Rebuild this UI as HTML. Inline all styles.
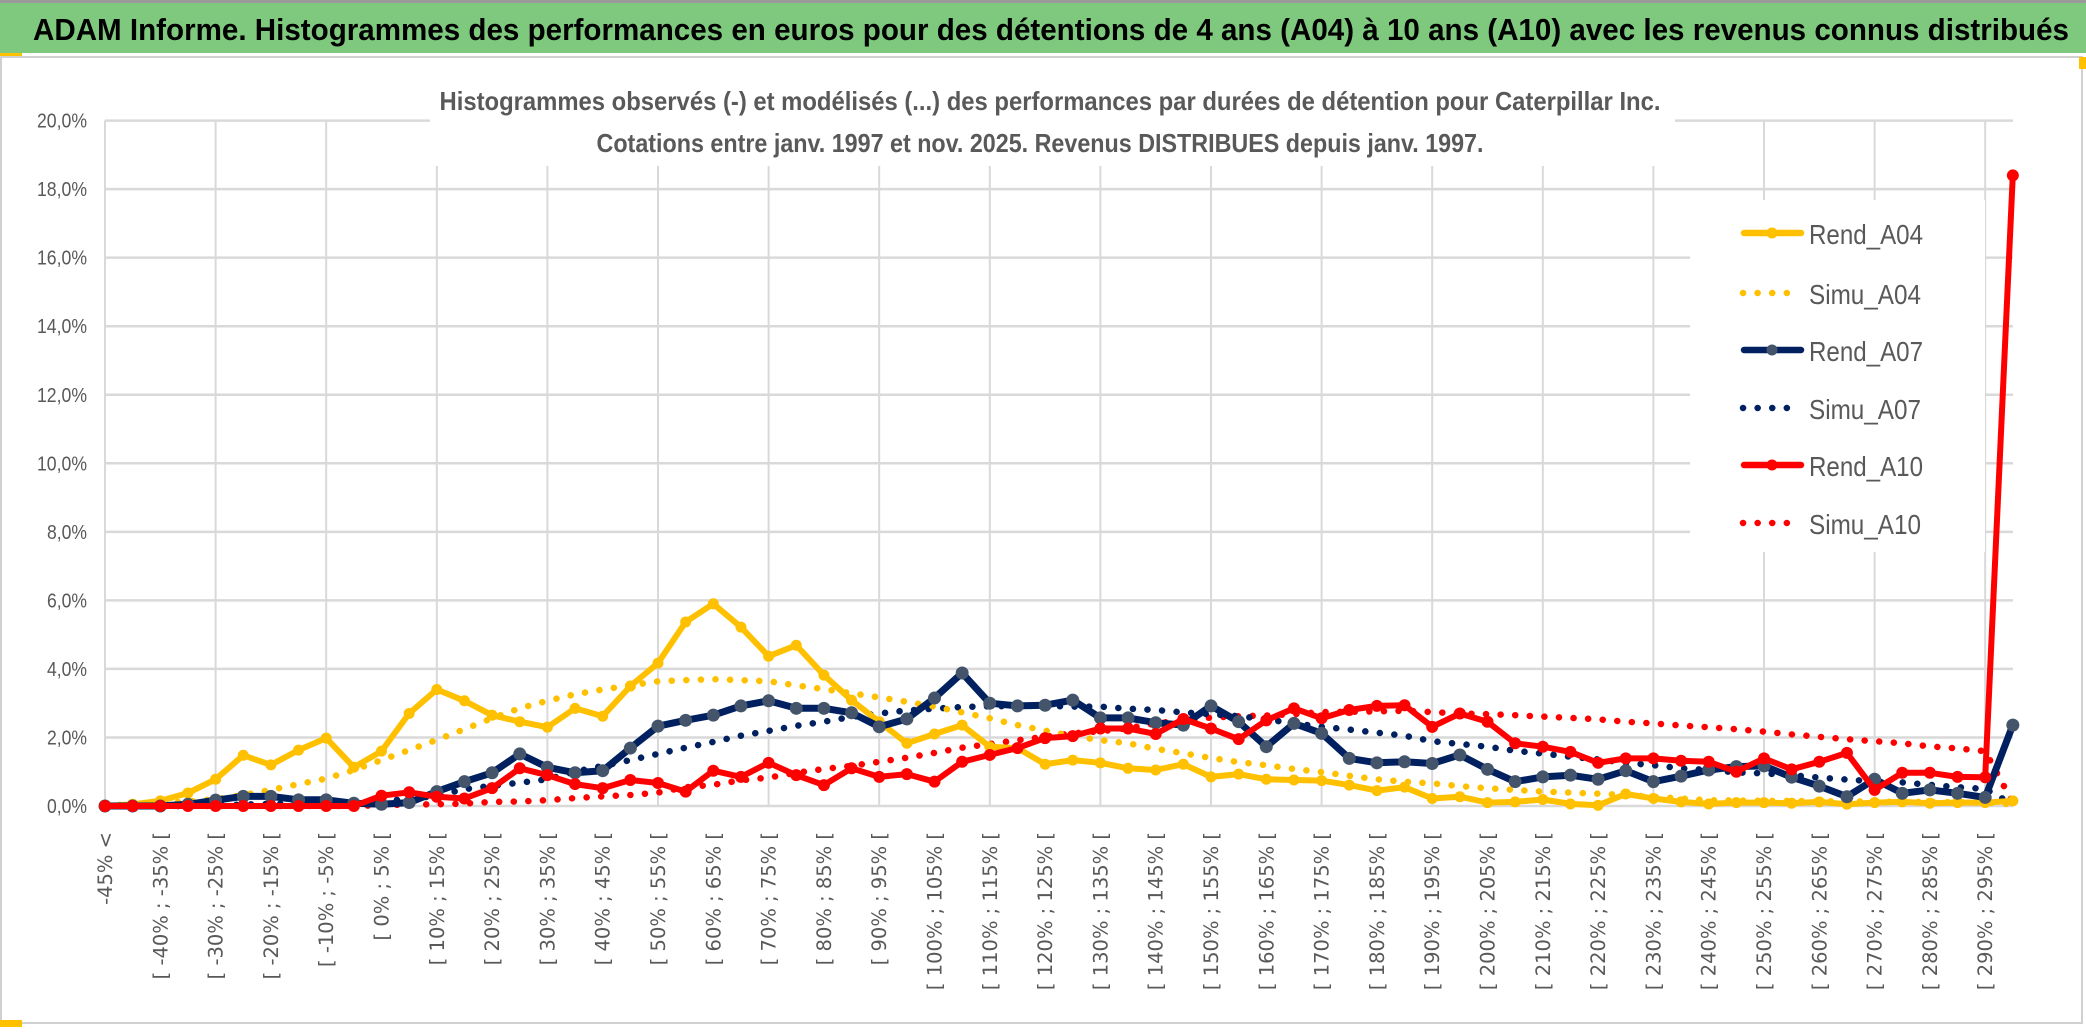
<!DOCTYPE html>
<html><head><meta charset="utf-8"><style>
html,body{margin:0;padding:0;background:#fff;}
svg{display:block;}
</style></head><body>
<svg id="chart" width="2086" height="1033" viewBox="0 0 2086 1033" xmlns="http://www.w3.org/2000/svg">
<rect x="0" y="0" width="2086" height="1033" fill="#fff"/>
<rect x="0" y="0" width="2086" height="3" fill="#9a9a9a"/>
<rect x="0" y="3" width="2086" height="50" fill="#7fc97f"/>
<text x="33" y="40" font-family="'Liberation Sans Narrow','Liberation Sans',sans-serif" font-weight="bold" font-size="31" fill="#000" textLength="2036" lengthAdjust="spacingAndGlyphs">ADAM Informe. Histogrammes des performances en euros pour des détentions de 4 ans (A04) à 10 ans (A10) avec les revenus connus distribués</text>
<rect x="0" y="53" width="22" height="4" fill="#ffc000"/>
<rect x="1" y="57" width="2081" height="966" fill="none" stroke="#d0d0d0" stroke-width="2"/>
<rect x="0" y="1020" width="22" height="7" fill="#ffc000"/>
<rect x="2079" y="57" width="7" height="12" fill="#ffc000"/>
<g id="grid"></g>
<rect x="430" y="84" width="1245" height="82" fill="#fff"/>
<text x="1050" y="110" text-anchor="middle" font-family="'Liberation Sans Narrow','Liberation Sans',sans-serif" font-weight="bold" font-size="26" fill="#595959" textLength="1221" lengthAdjust="spacingAndGlyphs">Histogrammes observés (-) et modélisés (...) des performances par durées de détention pour Caterpillar Inc.</text>
<text x="1040" y="152" text-anchor="middle" font-family="'Liberation Sans Narrow','Liberation Sans',sans-serif" font-weight="bold" font-size="26" fill="#595959" textLength="887" lengthAdjust="spacingAndGlyphs">Cotations entre janv. 1997 et nov. 2025. Revenus DISTRIBUES depuis janv. 1997.</text>
<g id="yaxis"></g>
<g id="xaxis"></g>
<g id="series"></g>
<g id="legend"></g>
</svg>
<script>
const categories = (function(){const c=["-45% <"];for(let a=-45;a<300;a+=5){c.push("[ "+a+"% ; "+(a+5)+"% [");}return c;})();
const yTicks = [0,2,4,6,8,10,12,14,16,18,20];
const yTickLabels = ["0,0%","2,0%","4,0%","6,0%","8,0%","10,0%","12,0%","14,0%","16,0%","18,0%","20,0%"];
const rendA04 = [0,0.05,0.15,0.38,0.78,1.48,1.2,1.63,1.98,1.13,1.6,2.7,3.4,3.07,2.65,2.46,2.3,2.85,2.62,3.5,4.17,5.37,5.9,5.22,4.37,4.69,3.82,3.09,2.46,1.83,2.1,2.36,1.73,1.69,1.22,1.34,1.26,1.1,1.05,1.22,0.85,0.93,0.78,0.76,0.74,0.61,0.45,0.55,0.22,0.27,0.1,0.12,0.19,0.06,0.02,0.35,0.22,0.12,0.06,0.1,0.1,0.08,0.12,0.05,0.1,0.12,0.08,0.1,0.1,0.15];
const simuA04 = [0.02,0.04,0.08,0.13,0.2,0.32,0.47,0.64,0.8,1.05,1.34,1.63,1.93,2.24,2.56,2.85,3.07,3.26,3.4,3.52,3.64,3.67,3.7,3.67,3.64,3.52,3.41,3.29,3.17,3.04,2.9,2.73,2.56,2.36,2.2,2.04,1.92,1.83,1.67,1.54,1.4,1.28,1.19,1.08,0.99,0.88,0.78,0.71,0.66,0.58,0.52,0.47,0.42,0.39,0.36,0.32,0.27,0.22,0.17,0.16,0.15,0.15,0.14,0.13,0.13,0.12,0.12,0.11,0.1,0.05];
const rendA07 = [0,0,0,0.05,0.17,0.28,0.28,0.18,0.18,0.08,0.05,0.1,0.42,0.71,0.97,1.52,1.13,0.97,1.03,1.69,2.33,2.5,2.65,2.92,3.07,2.85,2.85,2.72,2.31,2.54,3.15,3.88,3.0,2.92,2.94,3.09,2.57,2.57,2.43,2.36,2.92,2.46,1.73,2.41,2.12,1.39,1.26,1.29,1.24,1.49,1.07,0.71,0.85,0.9,0.78,1.03,0.71,0.87,1.05,1.15,1.17,0.84,0.58,0.27,0.78,0.37,0.47,0.37,0.25,2.36];
const simuA07 = [0,0,0,0,0.02,0.04,0.06,0.08,0.1,0.12,0.15,0.2,0.3,0.49,0.59,0.68,0.78,1.0,1.17,1.34,1.52,1.7,1.87,2.05,2.19,2.34,2.46,2.6,2.7,2.79,2.84,2.89,2.91,2.92,2.92,2.9,2.9,2.84,2.8,2.73,2.68,2.62,2.53,2.41,2.31,2.23,2.14,2.05,1.89,1.81,1.73,1.61,1.53,1.44,1.36,1.26,1.19,1.1,1.05,0.98,0.95,0.9,0.83,0.77,0.72,0.69,0.62,0.55,0.5,0.05];
const rendA10 = [0,0,0,0,0,0,0,0,0,0,0.3,0.4,0.27,0.22,0.52,1.1,0.9,0.64,0.52,0.76,0.67,0.42,1.03,0.85,1.26,0.9,0.61,1.1,0.85,0.93,0.71,1.29,1.49,1.69,1.98,2.04,2.26,2.26,2.1,2.54,2.26,1.95,2.5,2.85,2.56,2.8,2.92,2.94,2.31,2.7,2.46,1.83,1.73,1.58,1.26,1.39,1.39,1.32,1.29,1.0,1.39,1.07,1.29,1.55,0.47,0.97,0.97,0.85,0.84,18.4];
const simuA10 = [0,0,0,0,0,0,0,0,0,0,0.02,0.04,0.05,0.07,0.12,0.13,0.17,0.23,0.28,0.32,0.39,0.55,0.62,0.75,0.83,0.97,1.08,1.17,1.29,1.41,1.55,1.7,1.81,1.92,2.02,2.12,2.18,2.27,2.41,2.5,2.58,2.62,2.64,2.68,2.74,2.75,2.76,2.78,2.74,2.7,2.68,2.65,2.61,2.57,2.53,2.46,2.41,2.35,2.3,2.24,2.17,2.09,2.02,1.95,1.89,1.83,1.74,1.68,1.6,0.1];

const NS="http://www.w3.org/2000/svg";
const X0=105, STEP=27.65, Y0=806, PERPCT=34.27, XR=2013;
function xPos(i){return X0+i*STEP;}
function yPos(v){return Y0-v*PERPCT;}
function mk(tag,attrs,parent){const e=document.createElementNS(NS,tag);for(const k in attrs)e.setAttribute(k,attrs[k]);parent.appendChild(e);return e;}

const grid=document.getElementById('grid');
yTicks.forEach(function(t){
  const l=mk('line',{x1:X0,x2:XR,y1:yPos(t),y2:yPos(t),stroke:'#d9d9d9','stroke-width':2.5},grid);
  
  
});
for(let i=0;i<categories.length;i+=4){
  const l=mk('line',{x1:xPos(i),x2:xPos(i),y1:yPos(20),y2:Y0,stroke:'#d9d9d9','stroke-width':2},grid);
  
  
}
const ya=document.getElementById('yaxis');
yTicks.forEach(function(t,k){
  const tx=mk('text',{x:87,y:yPos(t)+7,'text-anchor':'end','font-family':"'Liberation Sans Narrow','Liberation Sans',sans-serif",'font-size':20,fill:'#595959',textLength:yTickLabels[k].length*10,lengthAdjust:'spacingAndGlyphs'},ya);
  tx.textContent=yTickLabels[k];
  
  
});
const xa=document.getElementById('xaxis');
for(let i=0;i<categories.length;i+=2){
  const x=xPos(i)+7, y=832;
  const tx=mk('text',{x:x,y:y,'text-anchor':'end',transform:'rotate(-90 '+x+' '+y+')','font-family':"'DejaVu Sans',sans-serif",'font-size':19.5,fill:'#595959'},xa);
  tx.textContent=categories[i];
  
  
}
const sg=document.getElementById('series');
function pts(arr){return arr.map(function(v,i){return xPos(i).toFixed(1)+','+yPos(v).toFixed(1);}).join(' ');}
function dotted(arr,color,name){
  const p=mk('polyline',{points:pts(arr),fill:'none',stroke:color,'stroke-width':6.5,'stroke-linecap':'round','stroke-dasharray':'0.1 14.5'},sg);
  
  
}
function solid(arr,color,mcolor,w,r,name){
  const g=mk('g',{},sg);
  
  
  mk('polyline',{points:pts(arr),fill:'none',stroke:color,'stroke-width':w,'stroke-linejoin':'round'},g);
  arr.forEach(function(v,i){
    const c=mk('circle',{cx:xPos(i),cy:yPos(v),r:r,fill:mcolor},g);
    
    
  });
}
dotted(simuA10,'#ff0000','simu-a10-line');
dotted(simuA07,'#002060','simu-a07-line');
dotted(simuA04,'#ffc000','simu-a04-line');
solid(rendA04,'#ffc000','#ffc000',6,5.5,'rend-a04-line');
solid(rendA07,'#002060','#44546a',7,6.5,'rend-a07-line');
solid(rendA10,'#ff0000','#ff0000',6,6,'rend-a10-line');

const lg=document.getElementById('legend');
const lbg=mk('rect',{x:1690,y:200,width:295,height:352,fill:'#fff'},lg);


const legendNames=["Rend_A04","Simu_A04","Rend_A07","Simu_A07","Rend_A10","Simu_A10"];
const legendColors=['#ffc000','#ffc000','#002060','#002060','#ff0000','#ff0000'];
const legendMarkers=['#ffc000',null,'#44546a',null,'#ff0000',null];
const legendY=[233,293,350,408,465,523];
legendNames.forEach(function(n,k){
  const g=mk('g',{},lg);
  
  
  const y=legendY[k];
  if(legendMarkers[k]){
    mk('line',{x1:1744,x2:1801,y1:y,y2:y,stroke:legendColors[k],'stroke-width':6.5,'stroke-linecap':'round'},g);
    mk('circle',{cx:1772,cy:y,r:5.5,fill:legendMarkers[k]},g);
  } else {
    mk('line',{x1:1743,x2:(k===5?1800:1790),y1:y,y2:y,stroke:legendColors[k],'stroke-width':6.5,'stroke-linecap':'round','stroke-dasharray':'0.1 14.5'},g);
  }
  const t=mk('text',{x:1809,y:y+11,'font-family':"'Liberation Sans Narrow','Liberation Sans',sans-serif",'font-size':28,fill:'#595959',textLength:(k%2===0?114:112),lengthAdjust:'spacingAndGlyphs'},g);
  t.textContent=n;
});
</script>
</body></html>
